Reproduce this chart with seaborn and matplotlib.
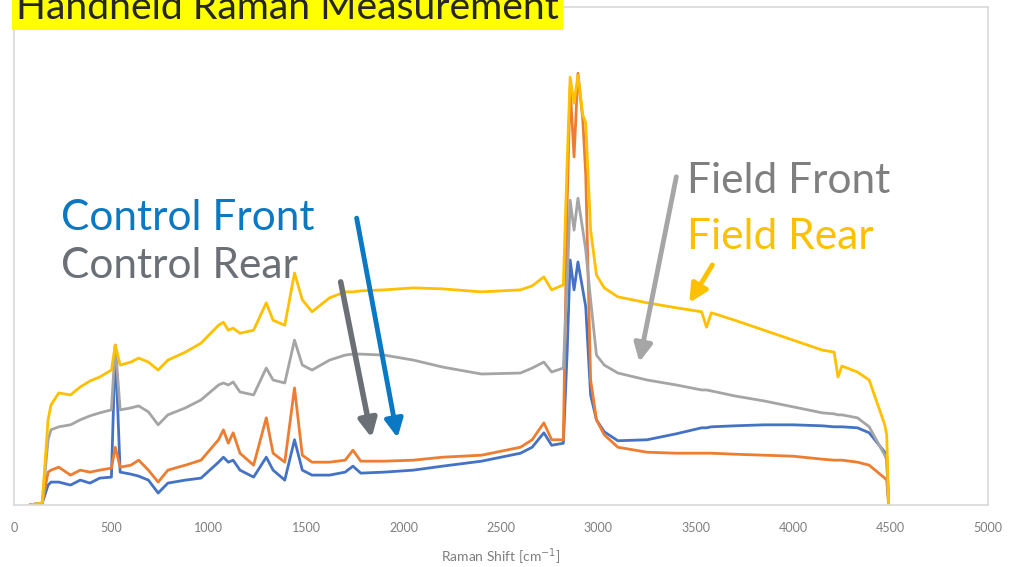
import matplotlib
matplotlib.use("Agg")
import matplotlib.pyplot as plt
from matplotlib.patches import Rectangle
import numpy as np
import pandas as pd
import seaborn as sns

# Raman shift grid (cm^-1) shared by the four spectra
shift = [80, 145, 175, 190, 230, 290, 340, 390, 440, 500, 520, 545, 600, 640, 690,
         740, 790, 880, 960, 1050, 1075, 1100, 1125, 1160, 1230, 1295, 1330, 1390,
         1440, 1480, 1530, 1620, 1700, 1740, 1780, 1900, 2050, 2200, 2400, 2600,
         2660, 2720, 2760, 2820, 2840, 2855, 2875, 2895, 2920, 2935, 2960, 2990,
         3030, 3100, 3250, 3400, 3530, 3555, 3580, 3700, 3850, 4000, 4150, 4210,
         4230, 4250, 4330, 4390, 4470, 4480, 4490]

# Intensities (a.u.)
control_front = [0, 0.4, 4.0, 4.6, 4.6, 4.0, 5.0, 4.4, 5.4, 5.6, 32.1, 6.6, 6.2, 5.8, 5.0,
                 2.4, 4.4, 5.0, 5.4, 8.6, 9.6, 8.6, 9.0, 7.0, 5.6, 9.6, 7.0, 5.0,
                 13.1, 7.0, 6.0, 6.0, 6.6, 7.8, 6.4, 6.6, 7.0, 7.8, 8.8, 10.4,
                 11.6, 14.5, 12.0, 12.4, 31.1, 49.2, 43.2, 48.8, 43.2, 39.8, 22.1, 17.1,
                 14.7, 12.9, 13.1, 14.3, 15.5, 15.5, 15.7, 15.9, 16.1, 16.1, 15.9, 15.7,
                 15.7, 15.7, 15.5, 14.5, 10.6, 9.8, 0]
control_rear = [0, 0.4, 6.6, 7.0, 7.6, 6.0, 7.0, 6.6, 7.0, 7.4, 11.6, 7.6, 8.0, 9.0, 7.0,
                4.6, 7.0, 8.0, 9.0, 13.1, 15.1, 12.4, 14.5, 10.4, 8.0, 17.5, 10.4, 8.6,
                23.5, 10.0, 8.6, 8.6, 9.0, 11.0, 8.8, 8.8, 9.0, 9.6, 10.0, 11.6,
                13.1, 16.5, 13.1, 13.1, 61.2, 83.9, 69.9, 86.7, 77.3, 66.3, 25.1, 17.1,
                14.1, 11.6, 10.6, 10.4, 10.4, 10.4, 10.4, 10.2, 10.0, 9.8, 9.2, 9.0,
                9.0, 9.0, 8.6, 8.0, 5.4, 5.0, 0]
field_front = [0, 0.4, 13.1, 15.1, 15.7, 16.1, 17.1, 17.9, 18.5, 19.1, 32.1, 19.1, 19.5, 19.9, 18.7,
               16.1, 18.1, 19.5, 21.1, 24.1, 24.5, 24.1, 24.7, 22.7, 22.1, 27.5, 25.1, 24.5,
               33.1, 28.1, 27.1, 29.1, 30.1, 30.3, 30.3, 30.1, 29.1, 27.7, 26.3, 26.5,
               27.5, 28.7, 26.7, 27.5, 45.2, 61.2, 55.2, 61.6, 55.2, 51.2, 41.2, 30.1,
               28.1, 26.5, 25.1, 24.1, 23.1, 23.1, 22.9, 21.9, 20.9, 19.7, 18.5, 18.3,
               18.1, 18.1, 17.5, 15.7, 10.0, 9.0, 0]
field_rear = [0, 0.4, 17.1, 20.1, 22.5, 22.1, 23.7, 24.9, 25.7, 27.1, 32.1, 28.1, 28.7, 29.5, 28.7,
              27.1, 29.1, 30.7, 32.5, 36.1, 36.7, 35.1, 35.5, 34.5, 35.1, 40.6, 37.1, 36.1,
              46.6, 41.2, 38.8, 41.6, 42.8, 42.8, 43.0, 43.2, 43.6, 43.4, 42.8, 43.2,
              44.0, 45.8, 43.2, 44.2, 69.3, 85.9, 80.7, 86.3, 78.3, 76.7, 55.2, 46.2,
              43.6, 41.8, 40.6, 39.6, 38.8, 35.7, 38.6, 37.1, 35.1, 33.1, 31.1, 30.7,
              25.7, 27.9, 26.7, 25.1, 16.1, 14.1, 0]

series_names = ["Control Front", "Control Rear", "Field Front", "Field Rear"]
line_colors = ["#4472C4", "#ED7D31", "#A5A5A5", "#FFC000"]
x_ticks = [0, 500, 1000, 1500, 2000, 2500, 3000, 3500, 4000, 4500, 5000]

frames = []
for name, vals in zip(series_names, [control_front, control_rear, field_front, field_rear]):
    frames.append(pd.DataFrame({"shift": shift, "intensity": vals, "sample": name}))
df = pd.concat(frames, ignore_index=True)

sns.set_theme(style="white")
plt.rcParams["font.family"] = ["Lato", "DejaVu Sans"]

fig = plt.figure(figsize=(10.12, 5.67), dpi=100)
ax = fig.add_axes([14 / 1012, 62 / 567, 974 / 1012, 498 / 567])

sns.lineplot(data=df, x="shift", y="intensity", hue="sample", hue_order=series_names,
             palette=line_colors, estimator=None, sort=False, linewidth=2.0,
             legend=False, ax=ax)

ax.set_xlim(0, 5000)
ax.set_ylim(0, 100)
ax.set_xticks(x_ticks)
ax.set_xticklabels([str(t) for t in x_ticks])
ax.set_yticks([])
ax.tick_params(axis="x", length=0, pad=12, labelsize=9, labelcolor="#7F7F7F")
ax.set_xlabel("Raman Shift [cm$^{-1}$]", fontsize=10, color="#7F7F7F", labelpad=9)
ax.set_ylabel("")
for sp in ax.spines.values():
    sp.set_visible(True)
    sp.set_color("#D9D9D9")
    sp.set_linewidth(1.2)

# Sample labels
label_size = 30.5
ax.text(240, 55.2, "Control Front", color="#0A78C2", fontsize=label_size, va="baseline")
ax.text(240, 45.6, "Control Rear", color="#6B7077", fontsize=label_size, va="baseline")
ax.text(3455, 62.7, "Field Front", color="#7F7F7F", fontsize=label_size, va="baseline")
ax.text(3455, 51.4, "Field Rear", color="#FFC000", fontsize=label_size, va="baseline")

# Pointer arrows
arrows = [
    ((1759, 57.6), (1969, 13.5), "#0A78C2", 3.5),
    ((1677, 44.8), (1836, 13.5), "#6B7077", 4.0),
    ((3400, 65.9), (3210, 28.7), "#A6A6A6", 3.5),
    ((3585, 48.2), (3467, 40.6), "#FFC000", 3.5),
]
for tail, tip, col, lw in arrows:
    ax.annotate("", xy=tip, xytext=tail,
                arrowprops=dict(arrowstyle="-|>,head_length=0.9,head_width=0.45",
                                color=col, lw=lw, shrinkA=0, shrinkB=0))

# Highlighted slide title
fig.patches.append(Rectangle((12 / 1012, 1 - 30 / 567), 551 / 1012, 30 / 567,
                             transform=fig.transFigure, facecolor="#FFFF00",
                             edgecolor="none", zorder=5))
fig.text(16 / 1012, 1 - 19 / 567, "Handheld Raman Measurement", fontsize=28.2,
         color="#262626", va="baseline", ha="left", zorder=6)

fig.savefig("out.png", dpi=100)
